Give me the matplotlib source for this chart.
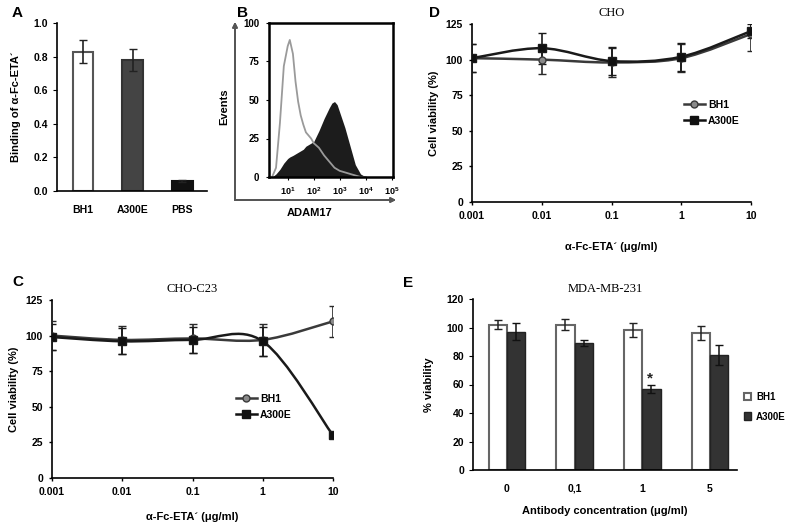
import numpy as np
import matplotlib.pyplot as plt
from matplotlib.path import Path
from matplotlib.patches import PathPatch
from matplotlib.lines import Line2D

plt.rcParams['font.family'] = ['Liberation Sans', 'DejaVu Sans']
plt.rcParams['font.weight'] = 'bold'
plt.rcParams['axes.labelweight'] = 'bold'
plt.rcParams['axes.linewidth'] = 1.2

# --- data ---------------------------------------------------------------
# A: binding
a_groups = ["BH1", "A300E", "PBS"]
a_vals = [0.83, 0.78, 0.06]
a_err = [0.07, 0.065, 0.005]

# B: flow cytometry histogram (log10 of intensity, events)
b_logx = [0.4, 0.55, 0.7, 0.85, 1.0, 1.08, 1.2, 1.3, 1.4, 1.5, 1.6, 1.7, 1.8, 1.9, 2.0,
          2.2, 2.4, 2.6, 2.7, 2.8, 2.9, 3.0, 3.2, 3.4, 3.6, 3.8, 4.0]
b_ctrl = [0, 6, 35, 72, 85, 89, 80, 62, 49, 40, 34, 29, 27, 25, 22,
          19, 14, 10, 8, 6, 5, 4, 3, 2, 1, 0, 0]
b_adam = [0, 2, 5, 9, 12, 13, 14, 15, 16, 17, 18, 20, 21, 22, 23,
          30, 38, 45, 48, 49, 47, 42, 32, 20, 8, 2, 0]

# C / D: viability curves
conc_labels = ["0.001", "0.01", "0.1", "1", "10"]
c_bh1 = [100, 97, 98, 97, 110]
c_bh1_err = [10, 10, 10, 11, 11]
c_a300 = [99, 96, 97, 96, 30]
c_a300_err = [9, 9, 9, 10, 2]

d_bh1 = [101, 100, 98, 101, 118]
d_bh1_err = [10, 10, 10, 10, 12]
d_a300 = [101, 108, 99, 102, 120]
d_a300_err = [10, 11, 10, 10, 5]

# E: MDA-MB-231
e_labels = ["0", "0,1", "1", "5"]
e_bh1 = [102, 102, 98, 96]
e_bh1_err = [3, 4, 5, 5]
e_a300 = [97, 89, 57, 81]
e_a300_err = [6, 2, 3, 7]

W, H = 787, 528
fig = plt.figure(figsize=(W / 100, H / 100), dpi=100)


def box(l, r, t, b):
    return [l / W, 1 - b / H, (r - l) / W, (b - t) / H]


def smooth_line(ax, ys, color, lw=1.8):
    # Catmull-Rom style smoothed connector, like the spreadsheet "smooth line"
    xs = np.arange(len(ys), dtype=float)
    pts = np.column_stack([xs, ys])
    verts = [pts[0]]
    codes = [Path.MOVETO]
    n = len(pts)
    for i in range(n - 1):
        p0 = pts[max(i - 1, 0)]
        p1 = pts[i]
        p2 = pts[i + 1]
        p3 = pts[min(i + 2, n - 1)]
        verts += [p1 + (p2 - p0) / 6, p2 - (p3 - p1) / 6, p2]
        codes += [Path.CURVE4] * 3
    ax.add_patch(PathPatch(Path(verts, codes), fill=False, edgecolor=color, lw=lw, zorder=2))


def curve_panel(ax, bh1, bh1e, a300, a300e, title, legend_xy, xlabpad):
    x = np.arange(len(conc_labels))
    smooth_line(ax, bh1, "#3a3a3a")
    smooth_line(ax, a300, "#1a1a1a")
    ax.errorbar(x, bh1, yerr=bh1e, fmt="o", color="#2a2a2a", mfc="#8a8a8a", mec="#3a3a3a",
                ms=5, capsize=3, elinewidth=1.2, zorder=3)
    ax.errorbar(x, a300, yerr=a300e, fmt="s", color="#1a1a1a", mfc="#111111",
                ms=5.5, capsize=3, elinewidth=1.2, zorder=3)
    ax.set_xlim(0, 4)
    ax.set_ylim(0, 125)
    ax.set_yticks([0, 25, 50, 75, 100, 125])
    ax.set_xticks(x)
    ax.set_xticklabels(conc_labels)
    ax.tick_params(labelsize=7.5, length=2.5, width=1, pad=4)
    for s in ("top", "right"):
        ax.spines[s].set_visible(False)
    ax.set_title(title, family="Liberation Serif", fontsize=9, fontweight="normal", pad=6)
    ax.set_xlabel("α-Fc-ETA´ (μg/ml)", fontsize=8, labelpad=xlabpad)
    ax.set_ylabel("Cell viability (%)", fontsize=8, labelpad=5)
    h1 = Line2D([], [], color="#3a3a3a", marker="o", mfc="#8a8a8a", ms=5, lw=1.8)
    h2 = Line2D([], [], color="#111111", marker="s", ms=5.5, lw=1.8)
    ax.legend([h1, h2], ["BH1", "A300E"], loc="center left", bbox_to_anchor=legend_xy,
              frameon=False, fontsize=7.5, handlelength=2.0, handletextpad=0.3,
              labelspacing=0.6, borderaxespad=0)


# --- A ------------------------------------------------------------------
axA = fig.add_axes(box(57, 207, 23, 191))
xa = np.arange(len(a_groups))
axA.bar(xa, a_vals, width=0.42, color=["white", "#444444", "#111111"],
        edgecolor=["#555555", "#333333", "#111111"], linewidth=1.5,
        yerr=a_err, capsize=3, error_kw=dict(elinewidth=1.2, ecolor="#222222"))
axA.set_xlim(-0.525, 2.5)
axA.set_ylim(0, 1.0)
axA.set_yticks(np.arange(0, 1.01, 0.2))
axA.set_yticklabels([f"{v:.1f}" for v in np.arange(0, 1.01, 0.2)])
axA.set_xticks(xa)
axA.set_xticklabels(a_groups)
axA.tick_params(axis="x", length=0, pad=10, labelsize=7.5)
axA.tick_params(axis="y", length=3, labelsize=7.5)
for s in ("top", "right"):
    axA.spines[s].set_visible(False)
axA.set_ylabel("Binding of α-Fc-ETA´", fontsize=8, labelpad=9)
fig.text(12 / W, 1 - 13 / H, "A", fontsize=11, fontweight="bold", va="center")

# --- B ------------------------------------------------------------------
axB = fig.add_axes(box(269, 393, 23, 177))
bx = 10 ** np.array(b_logx)
axB.fill_between(bx, b_adam, color="#1c1c1c", lw=0)
axB.plot(bx, b_ctrl, color="#9a9a9a", lw=1.3)
axB.set_xscale("log")
axB.set_xlim(10 ** 0.28, 10 ** 5.05)
axB.set_ylim(0, 100)
axB.set_yticks([0, 25, 50, 75, 100])
axB.set_xticks([1e1, 1e2, 1e3, 1e4, 1e5])
axB.minorticks_off()
axB.tick_params(labelsize=6.5, length=2, pad=4)
axB.tick_params(axis="y", labelsize=7, pad=5)
for s in axB.spines.values():
    s.set_linewidth(1.8)
fig.text(224 / W, 1 - 107 / H, "Events", rotation=90, fontsize=8, ha="center", va="center")
fig.text(310 / W, 1 - 213 / H, "ADAM17", fontsize=8, ha="center", va="center")
fig.text(237 / W, 1 - 13 / H, "B", fontsize=11, fontweight="bold", va="center")
fig.add_artist(plt.annotate("", xy=(235 / W, 1 - 22 / H), xytext=(235 / W, 1 - 200 / H),
                            xycoords="figure fraction",
                            arrowprops=dict(arrowstyle="-|>", color="#555555", lw=1.3,
                                            mutation_scale=7, shrinkA=0, shrinkB=0)))
fig.add_artist(plt.annotate("", xy=(396 / W, 1 - 200 / H), xytext=(235 / W, 1 - 200 / H),
                            xycoords="figure fraction",
                            arrowprops=dict(arrowstyle="-|>", color="#555555", lw=1.3,
                                            mutation_scale=7, shrinkA=0, shrinkB=0)))

# --- D ------------------------------------------------------------------
axD = fig.add_axes(box(472, 751, 24, 202))
curve_panel(axD, d_bh1, d_bh1_err, d_a300, d_a300_err, "CHO", (0.745, 0.5), 15)
fig.text(429 / W, 1 - 13 / H, "D", fontsize=11, fontweight="bold", va="center")

# --- C ------------------------------------------------------------------
axC = fig.add_axes(box(52, 333, 300, 478))
curve_panel(axC, c_bh1, c_bh1_err, c_a300, c_a300_err, "CHO-C23", (0.64, 0.4), 11)
fig.text(12 / W, 1 - 282 / H, "C", fontsize=11, fontweight="bold", va="center")

# --- E ------------------------------------------------------------------
axE = fig.add_axes(box(473, 737, 299, 470))
xe = np.arange(len(e_labels))
bw = 0.27
axE.bar(xe - bw / 2, e_bh1, width=bw, color="white", edgecolor="#666666", linewidth=1.5,
        yerr=e_bh1_err, capsize=3, error_kw=dict(elinewidth=1.1, ecolor="#222222"),
        label="BH1")
axE.bar(xe + bw / 2, e_a300, width=bw, color="#333333", edgecolor="#222222", linewidth=1.0,
        yerr=e_a300_err, capsize=3, error_kw=dict(elinewidth=1.1, ecolor="#111111"),
        label="A300E")
axE.text(xe[2] + bw / 2 - 0.02, e_a300[2] + e_a300_err[2] - 1, "*", ha="center",
         va="bottom", fontsize=11, color="#222222")
axE.set_xlim(-0.5, 3.4)
axE.set_ylim(0, 120)
axE.set_yticks(np.arange(0, 121, 20))
axE.set_xticks(xe)
axE.set_xticklabels(e_labels)
axE.tick_params(axis="x", length=0, pad=10, labelsize=7.5)
axE.tick_params(axis="y", length=3, labelsize=7.5)
for s in ("top", "right"):
    axE.spines[s].set_visible(False)
axE.set_title("MDA-MB-231", family="Liberation Serif", fontsize=9, fontweight="normal", pad=5)
axE.set_xlabel("Antibody concentration (μg/ml)", fontsize=8, labelpad=9)
axE.set_ylabel("% viability", fontsize=8, labelpad=9)
axE.legend(loc="center left", bbox_to_anchor=(1.01, 0.37), frameon=False, fontsize=7,
           handlelength=0.8, handleheight=0.8, handletextpad=0.5, labelspacing=1.0,
           borderaxespad=0)
fig.text(403 / W, 1 - 283 / H, "E", fontsize=11, fontweight="bold", va="center")

fig.savefig("out.png", dpi=100)
